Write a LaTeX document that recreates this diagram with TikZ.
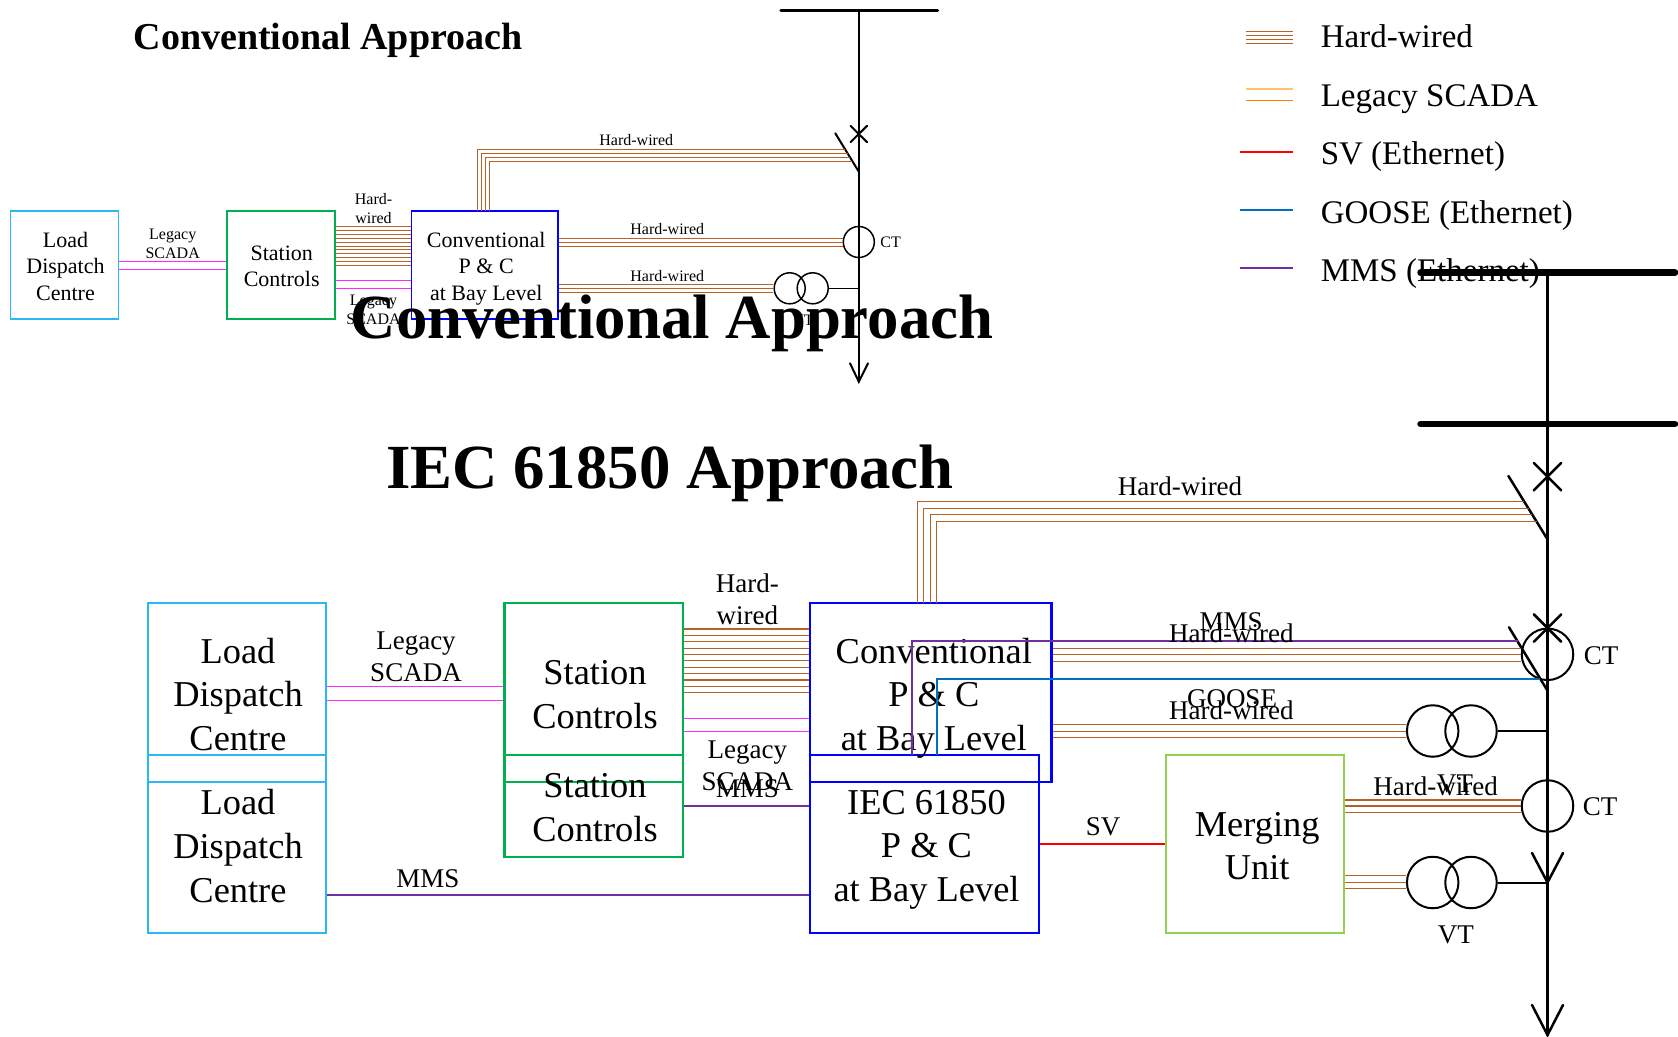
\documentclass[tikz,border=0pt]{standalone}
\usepackage{fontspec}
\setmainfont{Liberation Serif}
\definecolor{hwbrown}{RGB}{182,98,38}
\definecolor{scadapink}{RGB}{255,40,255}
\definecolor{lddblue}{RGB}{40,185,240}
\definecolor{scgreen}{RGB}{0,176,80}
\definecolor{mugreen}{RGB}{146,208,80}
\definecolor{goosecol}{RGB}{0,112,192}
\definecolor{mmscol}{RGB}{112,48,160}
\definecolor{legorange}{RGB}{255,180,70}
\tikzset{
  bigbox/.style={draw, line width=2.4pt, inner sep=0pt, minimum width=178.5pt, minimum height=178.5pt},
  bigtext/.style={inner sep=0pt, align=center, text depth=0pt, font=\fontsize{36.4}{43.6}\selectfont},
  smallbox/.style={draw, line width=1.4pt, inner sep=0pt, minimum width=108pt, minimum height=108pt},
  smalltext/.style={inner sep=0pt, align=center, text depth=0pt, font=\fontsize{22}{26.7}\selectfont},
  biglabel/.style={inner sep=0pt, align=center, font=\fontsize{27}{32}\selectfont},
  smalllabel/.style={inner sep=0pt, align=center, font=\fontsize{16}{18.7}\selectfont},
  legendtext/.style={inner sep=0pt, anchor=base west, font=\fontsize{33}{36}\selectfont},
  titletext/.style={inner sep=0pt, font=\fontsize{#1}{#1}\selectfont\bfseries},
  hardwire/.style={hwbrown, line width=1.1pt},
  scadawire/.style={scadapink, line width=1pt},
  ring/.style={circle, draw, line width=#1, inner sep=0pt},
  busline/.style={line width=#1, line cap=round, line join=miter}
}
\begin{document}
\begin{tikzpicture}[x=1pt, y=-1pt]
  \useasboundingbox (0,0) rectangle (1678,1036);
  % upper drawing
  \node[smallbox, draw=lddblue] (loadA) at (64.7,265) {};
  \node[smallbox, draw=scgreen] (stationA) at (280.9,265) {};
  \node[smallbox, draw=blue, minimum width=146.6pt] (convA) at (484.8,265) {};
  \node[smalltext] (loadAtext) at (65.5,266.3) {Load\\Dispatch\\Centre};
  \node[smalltext] (stationAtext) at (281.7,266.3) {Station\\Controls};
  \node[smalltext] (convAtext) at (486.2,266.3) {Conventional\\P \& C\\at Bay Level};
  \coordinate (busAtop) at (858.8,10.7);
  \coordinate (busAend) at (858.8,381.7);
  \coordinate (bladeAtop) at (835.3,133.3);
  \coordinate (bladeAend) at (858.8,171.7);
  \node[ring=1.5pt, minimum size=31pt] (ctA) at (858.8,242) {};
  \node[ring=1.5pt, minimum size=31pt] (vtAa) at (789.7,288.3) {};
  \node[ring=1.5pt, minimum size=31pt] (vtAb) at (812.7,288.3) {};
  \draw[busline=3.5pt] (781,10.7) -- (937.5,10.7);
  \draw[busline=2pt] (busAtop) -- (busAend);
  \draw[busline=2pt] (850,363.3) -- (busAend) -- (868,363.3);
  \draw[busline=2pt] (850.5,125.8) -- (867.1,142.2);
  \draw[busline=2pt] (850.5,142.2) -- (867.1,125.8);
  \draw[busline=2pt] (bladeAtop) -- (bladeAend);
  \draw[line width=1.5pt] (vtAb.east) -- (busAtop |- vtAb.east);
  \foreach \y in {261.3,269} \draw[scadawire] (loadA.east |- 0,\y) -- (stationA.west |- 0,\y);
  \foreach \y in {280.7,288.3} \draw[scadawire] (stationA.east |- 0,\y) -- (convA.west |- 0,\y);
  \foreach \y in {226.7,230.6,234.4,238.3,242.1,246,249.8,253.7,257.5,261.4,265.3}
    \draw[hardwire, line width=0.9pt] (stationA.east |- 0,\y) -- (convA.west |- 0,\y);
  \foreach \x/\y/\e in {477/149.3/845.2,481/153.3/847.6,485.4/157.3/850.1,489/161/852.4}
    \draw[hardwire, line width=0.9pt] (\x,211) -- (\x,\y) -- (\e,\y);
  \foreach \y in {238.3,242.3,246} \draw[hardwire, line width=0.9pt] (convA.east |- 0,\y) -- (ctA.west |- 0,\y);
  \foreach \y in {284.3,288.3,292.3} \draw[hardwire, line width=0.9pt] (convA.east |- 0,\y) -- (vtAa.west |- 0,\y);
  \node[smalllabel] (legacyA) at (172.7,243.5) {Legacy\\SCADA};
  \node[smalllabel] (wiredA) at (373.5,208.5) {Hard-\\wired};
  \node[smalllabel] (legacyB) at (373.5,309.5) {Legacy\\SCADA};
  \node[smalllabel] (wireAa) at (636.3,139.7) {Hard-wired};
  \node[smalllabel] (wireAb) at (667.3,229) {Hard-wired};
  \node[smalllabel] (wireAc) at (667.3,275.7) {Hard-wired};
  \node[smalllabel] (ctAlabel) at (890.7,242.7) {CT};
  \node[smalllabel] (vtAlabel) at (803,320) {VT};
  % lower drawing
  \node[bigbox, draw=lddblue] (loadB) at (237,692.5) {};
  \node[bigbox, draw=scgreen] (stationB) at (593.6,692.5) {};
  \node[bigbox, draw=blue, minimum width=241.7pt] (convB) at (930.8,692.5) {};
  \node[bigbox, draw=lddblue] (loadC) at (237,844) {};
  \node[bigbox, draw=scgreen, minimum height=101.7pt] (stationC) at (593.6,805.9) {};
  \node[bigbox, draw=blue, minimum width=229pt] (iecC) at (924.5,844) {};
  \node[bigbox, draw=mugreen] (mergeC) at (1255,844) {};
  \node[bigtext] (loadBtext) at (238,694.3) {Load\\Dispatch\\Centre};
  \node[bigtext] (stationBtext) at (595,694.3) {Station\\Controls};
  \node[bigtext] (convBtext) at (933.8,694.3) {Conventional\\P \& C\\at Bay Level};
  \node[bigtext] (loadCtext) at (238,845.8) {Load\\Dispatch\\Centre};
  \node[bigtext] (stationCtext) at (595,807.7) {Station\\Controls};
  \node[bigtext] (iecCtext) at (926.5,845.8) {IEC 61850\\P \& C\\at Bay Level};
  \node[bigtext] (mergeCtext) at (1257.2,845.8) {Merging\\Unit};
  \coordinate (busBtop) at (1547.5,272.7);
  \coordinate (busBend) at (1547.5,1035);
  \coordinate (arrowBmid) at (1547.5,882.5);
  \coordinate (bladeBtop) at (1508.4,476);
  \coordinate (bladeBend) at (1547.5,539.3);
  \coordinate (bladeCtop) at (1509,627.3);
  \coordinate (bladeCend) at (1547.5,690.7);
  \node[ring=2pt, minimum size=51.5pt] (ctB) at (1547.5,654.3) {};
  \node[ring=2pt, minimum size=51.5pt] (ctC) at (1547.5,806) {};
  \node[ring=2pt, minimum size=51.5pt] (vtBa) at (1432.7,731) {};
  \node[ring=2pt, minimum size=51.5pt] (vtBb) at (1471,731) {};
  \node[ring=2pt, minimum size=51.5pt] (vtCa) at (1432.7,882.5) {};
  \node[ring=2pt, minimum size=51.5pt] (vtCb) at (1471,882.5) {};
  \draw[busline=6.5pt] (1420.5,272.7) -- (1675,272.7);
  \draw[busline=6.5pt] (1420.5,424) -- (1675,424);
  \draw[busline=3pt] (busBtop) -- (busBend);
  \draw[busline=2.5pt] (1532,1005) -- (busBend) -- (1563,1005);
  \draw[busline=2.5pt] (1532,853) -- (arrowBmid) -- (1563,853);
  \foreach \y in {476.7,628} {
    \draw[busline=2.5pt] (1533.8,\y-13.7) -- (1561.2,\y+13.7);
    \draw[busline=2.5pt] (1533.8,\y+13.7) -- (1561.2,\y-13.7);
  }
  \draw[busline=2.5pt] (bladeBtop) -- (bladeBend);
  \draw[busline=2.5pt] (bladeCtop) -- (bladeCend);
  \draw[line width=2pt] (vtBb.east) -- (busBtop |- vtBb.east);
  \draw[line width=2pt] (vtCb.east) -- (arrowBmid);
  \foreach \y in {686,700} \draw[scadawire] (loadB.east |- 0,\y) -- (stationB.west |- 0,\y);
  \foreach \y in {718.3,731} \draw[scadawire] (stationB.east |- 0,\y) -- (convB.west |- 0,\y);
  \foreach \y in {629,635.4,641.7,648.1,654.5,660.9,667.2,673.6,680,686.3,692.7}
    \draw[hardwire] (stationB.east |- 0,\y) -- (convB.west |- 0,\y);
  \foreach \x/\y/\e in {917.4/501.7/1524.4,923.8/508.3/1528.5,930.3/514.7/1532.4,936.3/521.3/1536.5}
    \draw[hardwire] (\x,603.3) -- (\x,\y) -- (\e,\y);
  \foreach \y in {648.7,654.7,661.3} \draw[hardwire] (convB.east |- 0,\y) -- (ctB.west |- 0,\y);
  \foreach \y in {724.7,731.3,737.7} \draw[hardwire] (convB.east |- 0,\y) -- (vtBa.west |- 0,\y);
  \foreach \y in {800,806,812.7} \draw[hardwire] (mergeC.east |- 0,\y) -- (ctC.west |- 0,\y);
  \foreach \y in {875.7,882.3,888.7} \draw[hardwire] (mergeC.east |- 0,\y) -- (vtCa.west |- 0,\y);
  \draw[mmscol, line width=2pt] (911.7,755) -- (911.7,640.7) -- (1518,640.7);
  \draw[goosecol, line width=2pt] (936.7,755) -- (936.7,679) -- (1540,679);
  \draw[mmscol, line width=2pt] (stationC.east |- 0,806) -- (iecC.west |- 0,806);
  \draw[mmscol, line width=2pt] (loadC.east |- 0,894.7) -- (iecC.west |- 0,894.7);
  \draw[red, line width=2pt] (iecC.east |- 0,844.3) -- (mergeC.west |- 0,844.3);
  \node[biglabel] (legacyC) at (416,656.5) {Legacy\\SCADA};
  \node[biglabel] (wiredB) at (747.3,599) {Hard-\\wired};
  \node[biglabel] (legacyD) at (747.3,765.5) {Legacy\\SCADA};
  \node[biglabel] (mmsA) at (747.3,788.3) {MMS};
  \node[biglabel] (mmsB) at (428,878.6) {MMS};
  \node[biglabel] (svA) at (1103,826.7) {SV};
  \node[biglabel] (wireBa) at (1180,486.7) {Hard-wired};
  \node[biglabel] (mmsC) at (1231,621.7) {MMS};
  \node[biglabel] (wireBb) at (1231.4,633) {Hard-wired};
  \node[biglabel] (gooseA) at (1232,699) {GOOSE};
  \node[biglabel] (wireBc) at (1231.4,710.7) {Hard-wired};
  \node[biglabel] (wireBd) at (1435.6,786) {Hard-wired};
  \node[biglabel] (vtBlabel) at (1455,784) {VT};
  \node[biglabel] (vtClabel) at (1455.8,935) {VT};
  \node[biglabel] (ctBlabel) at (1601,656) {CT};
  \node[biglabel] (ctClabel) at (1600,807) {CT};
  % legend
  \foreach \y in {31,35,39,43} \draw[hardwire, line width=0.9pt] (1246,\y) -- (1293,\y);
  \draw[legorange!80, line width=1.1pt] (1246,89) -- (1293,89);
  \draw[orange, line width=1.1pt] (1246,100.3) -- (1293,100.3);
  \draw[red, line width=1.7pt] (1240,152.3) -- (1293,152.3);
  \draw[goosecol, line width=1.7pt] (1240,210.3) -- (1293,210.3);
  \draw[mmscol, line width=1.7pt] (1240,268.3) -- (1293,268.3);
  \node[legendtext] (legHard) at (1320.6,47) {Hard-wired};
  \node[legendtext] (legScada) at (1320.6,106) {Legacy SCADA};
  \node[legendtext] (legSv) at (1320.6,164.5) {SV (Ethernet)};
  \node[legendtext] (legGoose) at (1320.6,223) {GOOSE (Ethernet)};
  \node[legendtext] (legMms) at (1320.6,281.7) {MMS (Ethernet)};
  % titles
  \node[titletext=38] (titleA) at (328,40.5) {Conventional Approach};
  \node[titletext=62.8] (titleB) at (672,323) {Conventional Approach};
  \node[titletext=62.8] (titleC) at (670,473.5) {IEC 61850 Approach};
\end{tikzpicture}
\end{document}
